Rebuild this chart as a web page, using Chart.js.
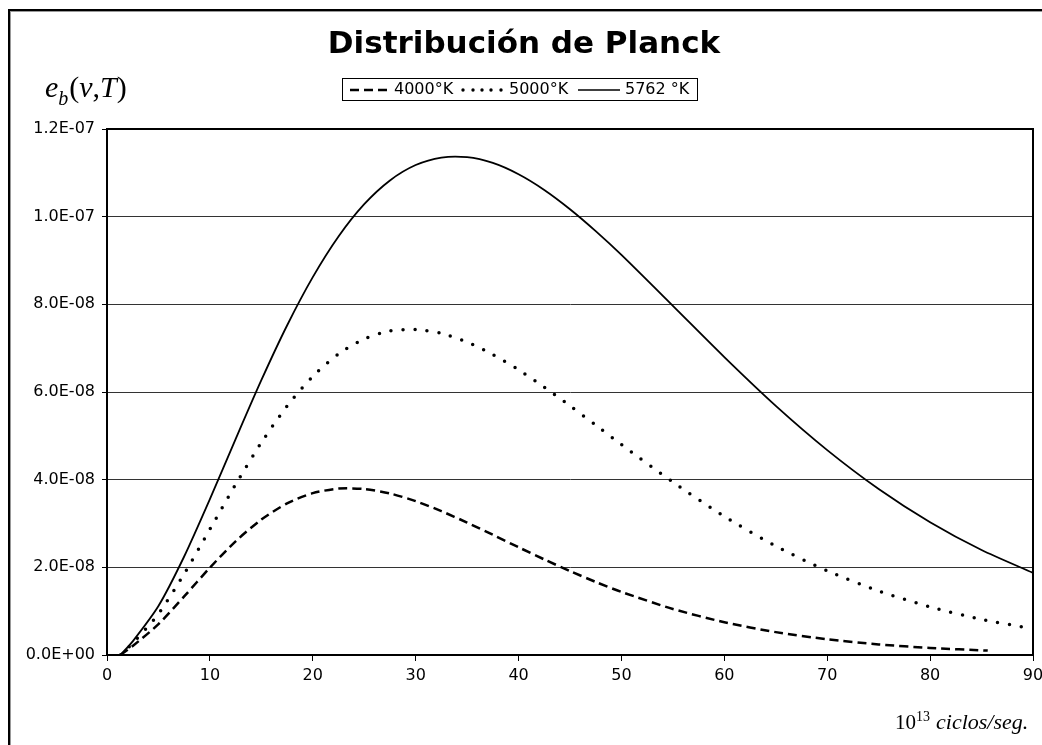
<!DOCTYPE html>
<html>
<head>
<meta charset="utf-8">
<title>Distribución de Planck</title>
<script src="https://cdn.jsdelivr.net/npm/chart.js@4.4.1/dist/chart.umd.min.js"></script>
<style>
    body { margin: 0; background: #ffffff; }
    #wrap { width: 1042px; height: 745px; }
</style>
</head>
<body>
<div id="wrap"><canvas id="chartPlanck" width="1042" height="745"></canvas></div>
<script>
// frecuencia en 10^13 ciclos/seg
const freq = [1.3, 2.5, 5, 7.5, 10, 12.5, 15, 17.5, 20, 22.5, 25, 27.5, 30, 32.5, 35, 37.5, 40, 42.5, 45, 47.5, 50, 55, 60, 65, 70, 75, 80, 85, 90];
const freq4000 = [1.3, 2.5, 5, 7.5, 10, 12.5, 15, 17.5, 20, 22.5, 25, 27.5, 30, 32.5, 35, 37.5, 40, 42.5, 45, 47.5, 50, 55, 60, 65, 70, 75, 80, 85.6];

const eb4000 = [0, 0.206e-8, 0.703e-8, 1.336e-8, 1.993e-8, 2.594e-8, 3.090e-8, 3.459e-8, 3.692e-8, 3.796e-8, 3.787e-8, 3.685e-8, 3.510e-8, 3.282e-8, 3.021e-8, 2.742e-8, 2.458e-8, 2.180e-8, 1.915e-8, 1.666e-8, 1.439e-8, 1.050e-8, 0.748e-8, 0.522e-8, 0.358e-8, 0.241e-8, 0.161e-8, 0.10e-8];
const eb5000 = [0, 0.266e-8, 0.938e-8, 1.850e-8, 2.868e-8, 3.892e-8, 4.845e-8, 5.677e-8, 6.355e-8, 6.866e-8, 7.210e-8, 7.392e-8, 7.428e-8, 7.337e-8, 7.138e-8, 6.855e-8, 6.506e-8, 6.110e-8, 5.685e-8, 5.245e-8, 4.801e-8, 3.944e-8, 3.162e-8, 2.485e-8, 1.920e-8, 1.460e-8, 1.097e-8, 0.814e-8, 0.598e-8];
const eb5762 = [0, 0.312e-8, 1.118e-8, 2.247e-8, 3.555e-8, 4.926e-8, 6.269e-8, 7.517e-8, 8.620e-8, 9.548e-8, 10.285e-8, 10.827e-8, 11.178e-8, 11.349e-8, 11.357e-8, 11.225e-8, 10.967e-8, 10.609e-8, 10.169e-8, 9.669e-8, 9.126e-8, 7.965e-8, 6.796e-8, 5.684e-8, 4.675e-8, 3.788e-8, 3.029e-8, 2.395e-8, 1.874e-8];

const seriesLabels = ['4000°K', '5000°K', '5762 °K'];
const yTicks = [0, 2e-8, 4e-8, 6e-8, 8e-8, 10e-8, 12e-8];
const xTicks = [0, 10, 20, 30, 40, 50, 60, 70, 80, 90];

function toPoints(xs, ys) {
    return xs.map((x, i) => ({ x: x, y: ys[i] }));
}

// formato tipo Excel: 1.2E-07
function formatSci(v) {
    if (Math.abs(v) < 1e-20) return '0.0E+00';
    let exp = Math.floor(Math.log10(Math.abs(v)));
    let mant = v / Math.pow(10, exp);
    if (Math.round(mant * 10) / 10 >= 10) { mant = mant / 10; exp = exp + 1; }
    const sign = exp < 0 ? '-' : '+';
    return mant.toFixed(1) + 'E' + sign + String(Math.abs(exp)).padStart(2, '0');
}

// marco, titulo, leyenda y textos del eje
const decoPlugin = {
    id: 'deco',
    beforeDraw(chart) {
        const ctx = chart.ctx;
        ctx.save();
        ctx.fillStyle = '#ffffff';
        ctx.fillRect(0, 0, chart.width, chart.height);
        // marco exterior
        ctx.strokeStyle = '#999999';
        ctx.lineWidth = 1;
        ctx.beginPath();
        ctx.moveTo(10, 11.5); ctx.lineTo(chart.width, 11.5);
        ctx.moveTo(10.5, 11); ctx.lineTo(10.5, chart.height);
        ctx.stroke();
        ctx.strokeStyle = '#000000';
        ctx.lineWidth = 2;
        ctx.beginPath();
        ctx.moveTo(8, 10); ctx.lineTo(chart.width, 10);
        ctx.moveTo(9, 9); ctx.lineTo(9, chart.height);
        ctx.stroke();
        ctx.restore();
    },
    afterDraw(chart) {
        const ctx = chart.ctx;
        const area = chart.chartArea;
        ctx.save();

        // borde del area de trazado
        ctx.strokeStyle = '#000000';
        ctx.lineWidth = 2;
        ctx.strokeRect(area.left, area.top, area.right - area.left, area.bottom - area.top);

        // titulo
        ctx.fillStyle = '#000000';
        ctx.font = 'bold 31px "DejaVu Sans"';
        ctx.textAlign = 'center';
        ctx.textBaseline = 'middle';
        ctx.fillText('Distribución de Planck', 524, 45);

        // leyenda
        ctx.lineWidth = 1;
        ctx.strokeRect(342.5, 78.5, 355, 22);
        ctx.font = '16px "DejaVu Sans"';
        ctx.textAlign = 'left';
        const ly = 90;
        ctx.lineWidth = 2.5;
        ctx.setLineDash([9, 5]);
        ctx.beginPath(); ctx.moveTo(350, ly); ctx.lineTo(390, ly); ctx.stroke();
        ctx.setLineDash([]);
        ctx.fillText(seriesLabels[0], 394, ly);
        [463, 473, 482, 491, 501].forEach(px => {
            ctx.beginPath(); ctx.arc(px, ly, 1.7, 0, Math.PI * 2); ctx.fill();
        });
        ctx.fillText(seriesLabels[1], 509, ly);
        ctx.lineWidth = 1.7;
        ctx.beginPath(); ctx.moveTo(578, ly); ctx.lineTo(620, ly); ctx.stroke();
        ctx.fillText(seriesLabels[2], 625, ly);

        // etiqueta eje y: e_b(v,T)
        let x = 45;
        const by = 97;
        ctx.textBaseline = 'alphabetic';
        ctx.font = 'italic 30px "Liberation Serif"';
        ctx.fillText('e', x, by); x += ctx.measureText('e').width;
        ctx.font = 'italic 20px "Liberation Serif"';
        ctx.fillText('b', x, by + 8); x += ctx.measureText('b').width + 1;
        const parts = [['(', false], ['v', true], [',', false], ['T', true], [')', false]];
        parts.forEach(p => {
            ctx.font = (p[1] ? 'italic ' : '') + '30px "Liberation Serif"';
            ctx.fillText(p[0], x, by);
            x += ctx.measureText(p[0]).width;
        });

        // etiqueta eje x: 10^13 ciclos/seg.
        x = 895;
        const bx = 729;
        ctx.font = '21px "Liberation Serif"';
        ctx.fillText('10', x, bx); x += ctx.measureText('10').width;
        ctx.font = '14px "Liberation Serif"';
        ctx.fillText('13', x, bx - 8); x += ctx.measureText('13').width + 6;
        ctx.font = 'italic 22px "Liberation Serif"';
        ctx.fillText('ciclos/seg.', x, bx);

        ctx.restore();
    }
};

function createPlanckChart() {
    const ctx = document.getElementById('chartPlanck').getContext('2d');
    Chart.defaults.font.family = '"DejaVu Sans"';
    Chart.defaults.color = '#000000';

    return new Chart(ctx, {
        type: 'line',
        data: {
            datasets: [{
                label: seriesLabels[0],
                data: toPoints(freq4000, eb4000),
                borderColor: '#000000',
                borderWidth: 2.5,
                borderDash: [9, 5],
                pointRadius: 0,
                tension: 0.25,
                fill: false
            },
            {
                label: seriesLabels[1],
                data: toPoints(freq, eb5000),
                borderColor: '#000000',
                borderWidth: 3.5,
                borderDash: [0, 12],
                borderCapStyle: 'round',
                pointRadius: 0,
                tension: 0.25,
                fill: false
            },
            {
                label: seriesLabels[2],
                data: toPoints(freq, eb5762),
                borderColor: '#000000',
                borderWidth: 1.8,
                pointRadius: 0,
                tension: 0.25,
                fill: false
            }]
        },
        options: {
            responsive: false,
            animation: false,
            layout: { padding: { left: 0, top: 129, right: 9, bottom: 0 } },
            plugins: {
                legend: { display: false },
                title: { display: false },
                tooltip: { enabled: false }
            },
            scales: {
                x: {
                    type: 'linear',
                    min: 0,
                    max: 90,
                    afterBuildTicks: (scale) => { scale.ticks = xTicks.map(v => ({ value: v })); },
                    afterFit: (scale) => { scale.height = 90; scale.paddingLeft = 0; scale.paddingRight = 0; },
                    grid: { drawOnChartArea: false, color: '#000000', tickLength: 6 },
                    border: { color: '#000000', width: 2 },
                    ticks: { font: { size: 16 }, padding: 5, maxRotation: 0 }
                },
                y: {
                    min: 0,
                    max: 1.2e-7,
                    afterBuildTicks: (scale) => { scale.ticks = yTicks.map(v => ({ value: v })); },
                    afterFit: (scale) => { scale.width = 107; },
                    grid: { color: '#333333', lineWidth: 1, tickColor: '#000000', tickLength: 5 },
                    border: { color: '#000000', width: 2 },
                    ticks: { font: { size: 16 }, padding: 7, callback: (v) => formatSci(v) }
                }
            }
        },
        plugins: [decoPlugin]
    });
}

document.addEventListener('DOMContentLoaded', () => {
    createPlanckChart();
});
</script>
</body>
</html>
